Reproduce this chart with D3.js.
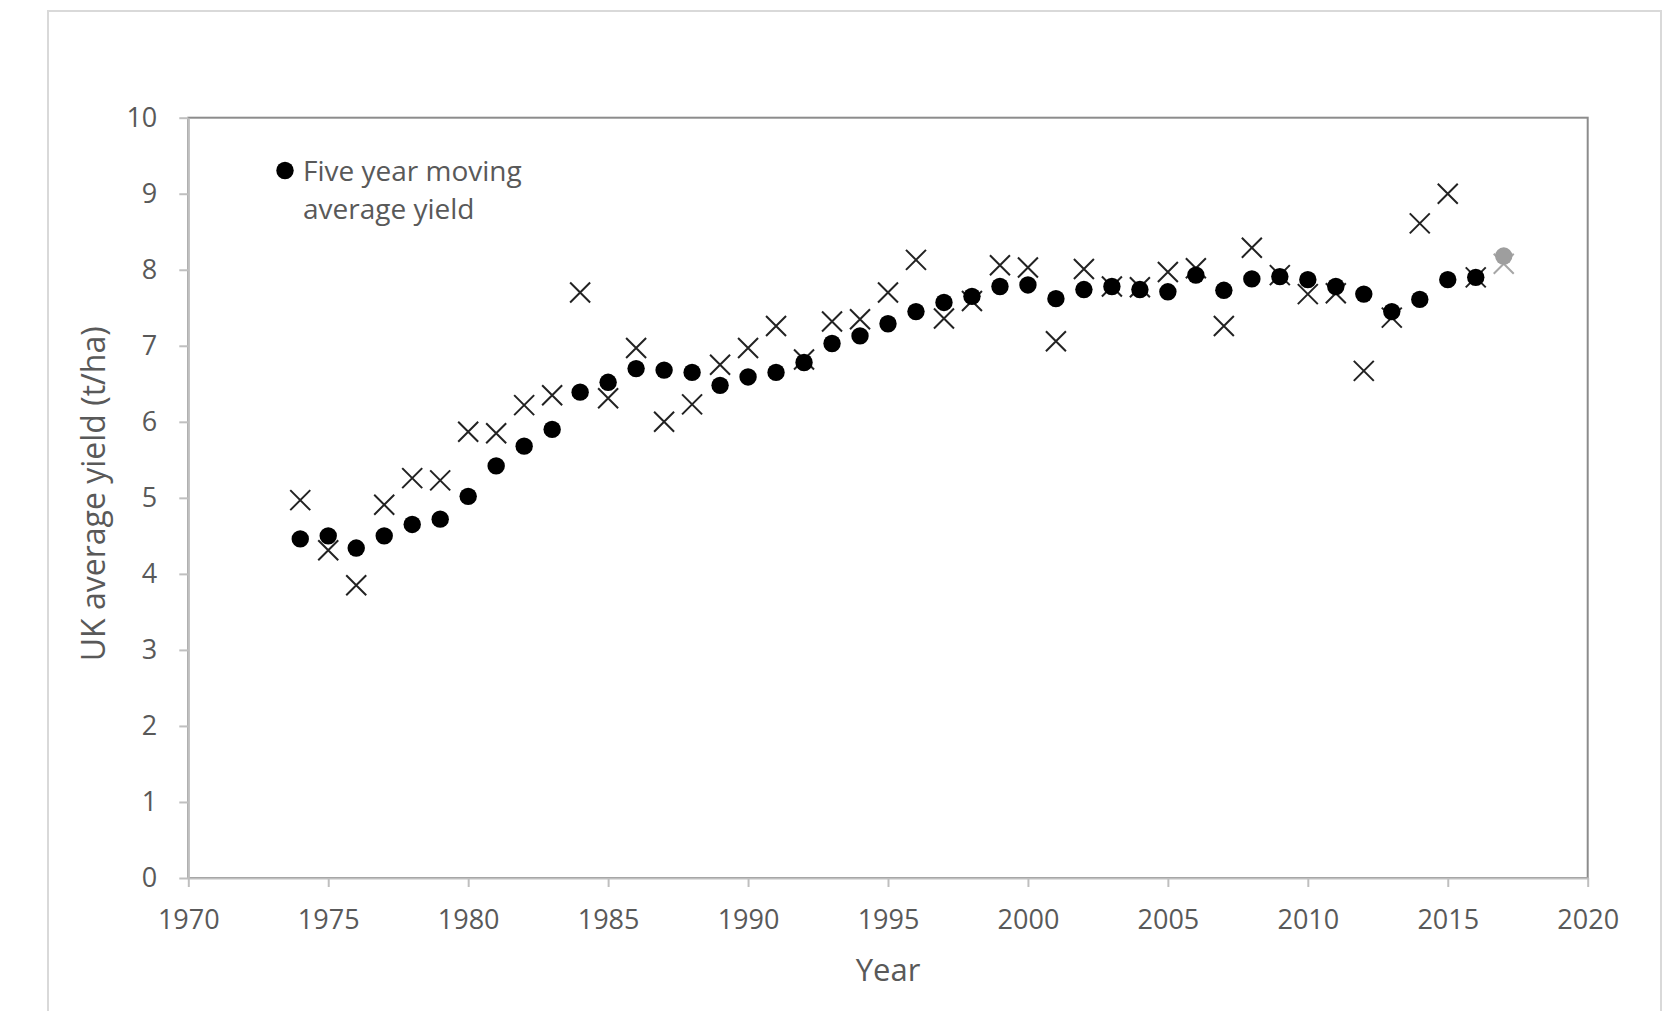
<!DOCTYPE html>
<html>
<head>
<meta charset="utf-8">
<script src="https://cdn.jsdelivr.net/npm/d3@7"></script>
<style>
  html, body { margin: 0; padding: 0; background: #fff; }
  svg { display: block; }
  text { font-family: "Open Sans", "Noto Sans", sans-serif; fill: #595959; }
</style>
</head>
<body>
<svg id="chart" width="1670" height="1011"></svg>
<script>
// ---- data ----
const years = [1974,1975,1976,1977,1978,1979,1980,1981,1982,1983,1984,1985,1986,1987,1988,1989,1990,1991,1992,1993,1994,1995,1996,1997,1998,1999,2000,2001,2002,2003,2004,2005,2006,2007,2008,2009,2010,2011,2012,2013,2014,2015,2016];
const movingAvgYield = [4.46,4.50,4.34,4.50,4.65,4.72,5.02,5.42,5.68,5.90,6.39,6.52,6.70,6.68,6.65,6.48,6.59,6.65,6.78,7.03,7.13,7.29,7.45,7.57,7.65,7.78,7.80,7.62,7.74,7.78,7.74,7.71,7.93,7.73,7.88,7.91,7.87,7.78,7.68,7.45,7.61,7.87,7.90];
const annualYield = [4.97,4.31,3.85,4.91,5.26,5.23,5.87,5.85,6.22,6.35,7.70,6.31,6.97,6.00,6.23,6.75,6.97,7.26,6.82,7.32,7.35,7.70,8.13,7.36,7.59,8.06,8.03,7.06,8.01,7.78,7.77,7.97,8.02,7.26,8.29,7.93,7.68,7.69,6.67,7.37,8.61,9.00,7.90];
// provisional year shown in grey
const provisionalYears = [2017];
const provisionalAvg = [8.18];
const provisionalAnnual = [8.08];

const xTicks = [1970,1975,1980,1985,1990,1995,2000,2005,2010,2015,2020];
const yTicks = [0,1,2,3,4,5,6,7,8,9,10];
const xTitle = "Year";
const yTitle = "UK average yield (t/ha)";
const legendLines = ["Five year moving", "average yield"];

// ---- layout ----
const svg = d3.select("#chart");
const x0 = 188.3, x1 = 1587.7, yBottom = 878, yTop = 117.7;
const x = d3.scaleLinear().domain([1970, 2020]).range([x0, x1]);
const y = d3.scaleLinear().domain([0, 10]).range([yBottom, yTop]);

// outer chart border
svg.append("rect")
  .attr("x", 48).attr("y", 11).attr("width", 1613).attr("height", 1100)
  .attr("fill", "#fff").attr("stroke", "#d9d9d9").attr("stroke-width", 2);

// plot area border
svg.append("rect")
  .attr("x", x0).attr("y", yTop).attr("width", x1 - x0).attr("height", yBottom - yTop)
  .attr("fill", "none").attr("stroke", "#8c8c8c").attr("stroke-width", 2);

// axes
const yAxis = svg.append("g").attr("transform", `translate(${x0},0)`)
  .call(d3.axisLeft(y).tickValues(yTicks).tickSize(9).tickSizeOuter(0).tickPadding(22).tickFormat(d3.format("d")));
const xAxis = svg.append("g").attr("transform", `translate(0,${yBottom})`)
  .call(d3.axisBottom(x).tickValues(xTicks).tickSize(9).tickSizeOuter(0).tickFormat(d3.format("d")));

[yAxis, xAxis].forEach(g => {
  g.select(".domain").attr("stroke", "#bfbfbf").attr("stroke-width", 2);
  g.selectAll(".tick line").attr("stroke", "#bfbfbf").attr("stroke-width", 2);
  g.selectAll(".tick text").attr("fill", "#595959")
    .style("font-family", '"Open Sans", sans-serif').style("font-size", "27px");
});
xAxis.selectAll(".tick text").attr("y", 41).attr("dy", "0.36em");

// axis titles
svg.append("text")
  .attr("transform", `translate(94,${(yTop + yBottom) / 2 - 4}) rotate(-90)`)
  .attr("text-anchor", "middle").attr("dy", "0.35em")
  .style("font-size", "32px").text(yTitle);
svg.append("text")
  .attr("x", (x0 + x1) / 2).attr("y", 970).attr("dy", "0.35em")
  .attr("text-anchor", "middle").style("font-size", "31px").text(xTitle);

// crosses (annual yield)
const crossPath = (cx, cy, s) => `M${cx - s},${cy - s}L${cx + s},${cy + s}M${cx - s},${cy + s}L${cx + s},${cy - s}`;
const CROSS = 10, R = 8.7;

svg.append("g").selectAll("path").data(years.map((yr, i) => [yr, annualYield[i]]))
  .join("path")
  .attr("d", d => crossPath(x(d[0]), y(d[1]), CROSS))
  .attr("stroke", "#222").attr("stroke-width", 2).attr("fill", "none");

svg.append("g").selectAll("path").data(provisionalYears.map((yr, i) => [yr, provisionalAnnual[i]]))
  .join("path")
  .attr("d", d => crossPath(x(d[0]), y(d[1]), CROSS))
  .attr("stroke", "#a6a6a6").attr("stroke-width", 2).attr("fill", "none");

// dots (five year moving average)
svg.append("g").selectAll("circle").data(years.map((yr, i) => [yr, movingAvgYield[i]]))
  .join("circle")
  .attr("cx", d => x(d[0])).attr("cy", d => y(d[1])).attr("r", R)
  .attr("fill", "#000");

svg.append("g").selectAll("circle").data(provisionalYears.map((yr, i) => [yr, provisionalAvg[i]]))
  .join("circle")
  .attr("cx", d => x(d[0])).attr("cy", d => y(d[1])).attr("r", R)
  .attr("fill", "#9e9e9e");

// legend
const lg = svg.append("g");
lg.append("circle").attr("cx", 285).attr("cy", 170.5).attr("r", R).attr("fill", "#000");
lg.selectAll("text").data(legendLines).join("text")
  .attr("x", 303).attr("y", (d, i) => 181 + i * 38)
  .style("font-size", "28px").text(d => d);
</script>
</body>
</html>
